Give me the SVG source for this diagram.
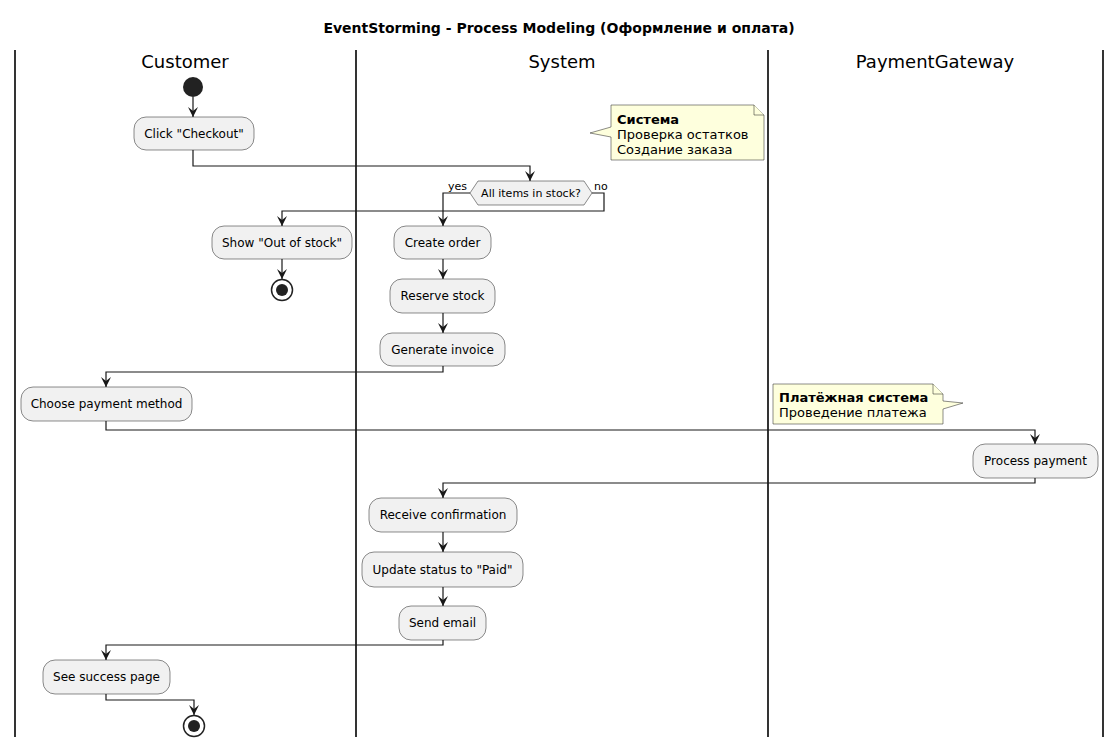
<svg xmlns="http://www.w3.org/2000/svg" width="1119" height="747" viewBox="0 0 1119 747">
<style>
text{font-family:"DejaVu Sans","Liberation Sans",sans-serif;fill:#000}
.title{font-size:14px;font-weight:bold;text-anchor:middle}
.lane{font-size:18px;text-anchor:middle}
.act rect{fill:#F1F1F1;stroke:#181818;stroke-width:0.5}
.act text{font-size:12px;text-anchor:middle}
.lbl{font-size:11px}
.note path{fill:#FEFFDD;stroke:#181818;stroke-width:0.5}
.note text{font-size:13px}
.b{font-weight:bold}
.conn path{fill:none;stroke:#181818;stroke-width:1.2;marker-end:url(#ah)}
.sw{stroke:#000;stroke-width:1.6}
</style>
<defs>
<marker id="ah" markerUnits="userSpaceOnUse" markerWidth="11" markerHeight="11" refX="10" refY="5" orient="auto" viewBox="0 0 11 11">
<path d="M0,0 L10,5 L0,10 L4,5 Z" fill="#181818"/>
</marker>
</defs>
<rect width="1119" height="747" fill="#fff"/>
<text class="title" x="559" y="33">EventStorming - Process Modeling (Оформление и оплата)</text>
<g id="lanes">
<line class="sw" x1="15" y1="50" x2="15" y2="737"/>
<line class="sw" x1="356" y1="50" x2="356" y2="737"/>
<line class="sw" x1="768" y1="50" x2="768" y2="737"/>
<line class="sw" x1="1103" y1="50" x2="1103" y2="737"/>
<text class="lane" x="185" y="68">Customer</text>
<text class="lane" x="562" y="68">System</text>
<text class="lane" x="935" y="68">PaymentGateway</text>
</g>
<g class="conn" id="connectors">
<path d="M193,97 L193,117"/>
<path d="M193,150 L193,166 L530,166 L530,181"/>
<path d="M470,193 L443,193 L443,226"/>
<path d="M592,193 L604,193 L604,211 L282,211 L282,226"/>
<path d="M282,259 L282,279"/>
<path d="M443,259 L443,279"/>
<path d="M443,313 L443,333"/>
<path d="M443,366 L443,372 L106,372 L106,387"/>
<path d="M106,421 L106,430 L1035,430 L1035,444"/>
<path d="M1035,478 L1035,483 L443,483 L443,498"/>
<path d="M443,532 L443,552"/>
<path d="M443,587 L443,606"/>
<path d="M443,640 L443,645 L106,645 L106,660"/>
<path d="M106,694 L106,700 L194,700 L194,715"/>
</g>
<g id="start"><circle cx="193" cy="87" r="10" fill="#222"/></g>
<g id="click" class="act"><rect x="134" y="117" width="120" height="33" rx="12"/><text x="194" y="138">Click "Checkout"</text></g>
<g id="decision">
<polygon points="470,193 478,181 584,181 592,193 584,205 478,205" fill="#F1F1F1" stroke="#181818" stroke-width="0.5"/>
<text class="lbl" x="531" y="197" text-anchor="middle">All items in stock?</text>
<text class="lbl" x="448" y="190">yes</text>
<text class="lbl" x="594" y="190">no</text>
</g>
<g id="outofstock" class="act"><rect x="212" y="226" width="140" height="33" rx="12"/><text x="282" y="247">Show "Out of stock"</text></g>
<g id="stop1"><circle cx="282" cy="290" r="10.5" fill="#fff" stroke="#222" stroke-width="1.5"/><circle cx="282" cy="290" r="6" fill="#222"/></g>
<g id="createorder" class="act"><rect x="394" y="226" width="97" height="33" rx="12"/><text x="442.5" y="247">Create order</text></g>
<g id="reserve" class="act"><rect x="390" y="279" width="105" height="34" rx="12"/><text x="442.5" y="300">Reserve stock</text></g>
<g id="invoice" class="act"><rect x="380" y="333" width="125" height="33" rx="12"/><text x="442.5" y="354">Generate invoice</text></g>
<g id="choose" class="act"><rect x="21" y="387" width="171" height="34" rx="12"/><text x="106.5" y="408">Choose payment method</text></g>
<g id="process" class="act"><rect x="973" y="444" width="125" height="34" rx="12"/><text x="1035.5" y="465">Process payment</text></g>
<g id="receive" class="act"><rect x="369" y="498" width="148" height="34" rx="12"/><text x="443" y="519">Receive confirmation</text></g>
<g id="update" class="act"><rect x="362" y="552" width="161" height="35" rx="12"/><text x="442.5" y="574">Update status to "Paid"</text></g>
<g id="email" class="act"><rect x="399" y="606" width="87" height="34" rx="12"/><text x="442.5" y="627">Send email</text></g>
<g id="success" class="act"><rect x="43" y="660" width="127" height="34" rx="12"/><text x="106.5" y="681">See success page</text></g>
<g id="stop2"><circle cx="194" cy="726" r="10.5" fill="#fff" stroke="#222" stroke-width="1.5"/><circle cx="194" cy="726" r="6" fill="#222"/></g>
<g id="note1" class="note">
<path d="M611,105 L754,105 L764,115 L764,160 L611,160 L611,137 L590,133 L611,127 Z"/>
<path d="M754,105 L754,115 L764,115" fill="none"/>
<text x="617" y="124" class="b">Система</text>
<text x="617" y="139">Проверка остатков</text>
<text x="617" y="154">Создание заказа</text>
</g>
<g id="note2" class="note">
<path d="M773,384 L933,384 L943,394 L943,401 L963,403 L943,409 L943,424 L773,424 Z"/>
<path d="M933,384 L933,394 L943,394" fill="none"/>
<text x="779" y="402" class="b">Платёжная система</text>
<text x="779" y="417">Проведение платежа</text>
</g>
</svg>
